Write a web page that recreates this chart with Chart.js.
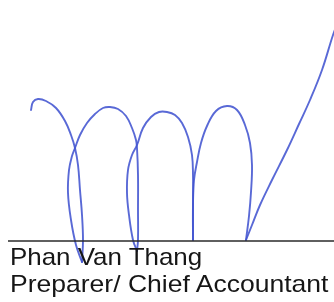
<!DOCTYPE html>
<html>
<head>
<meta charset="utf-8">
<script src="https://cdn.jsdelivr.net/npm/chart.js@4.4.1/dist/chart.umd.min.js"></script>
<style>
    html, body { margin: 0; padding: 0; background: #fff; }
    #wrap { position: relative; width: 334px; height: 302px; overflow: hidden; }
    #sig { position: absolute; left: 0; top: 0; }
    .caption {
        position: absolute; left: 10px;
        font-family: 'Liberation Sans', Arial, sans-serif;
        font-size: 24px; line-height: 1; color: #161616;
        white-space: nowrap;
        transform: scaleX(1.08); transform-origin: left top;
    }
    .caption.wide { transform: scaleX(1.105); }
</style>
</head>
<body>
<div id="wrap">
    <canvas id="sig" width="334" height="302"></canvas>
    <div class="caption" style="top:245px;">Phan Van Thang</div>
    <div class="caption wide" style="top:272px;">Preparer/ Chief Accountant</div>
</div>
<script>
/* ── Signature strokes (x, y) ────────────────────────── */
// hook + first arch, down the right side of loop 1
const strokeA = [[31,110],[33,102],[38,99],[46,101],[56,108],[65,121],[71,135],[75,148],[78,165],[80,190],[82,215],[83,240],[82,262]];
// back up loop 1, second arch, down loop 2
const strokeB = [[82,262],[76,245],[71,220],[68,193],[69,170],[72,156],[75,148],[80,135],[87,123],[95,114],[103,108],[110,107],[118,109],[126,116],[132,128],[136,140],[137,148],[138,175],[138,210],[138,240],[137,251]];
// back up loop 2, third arch, down to the rule
const strokeC = [[137,251],[133,240],[129,215],[127,193],[128,170],[132,155],[137,145],[143,128],[151,117],[159,112],[167,112],[175,115],[182,123],[188,137],[192,155],[193,175],[193,210],[193,240]];
// up again, fourth arch, down to the rule
const strokeD = [[193,240],[193,205],[194,180],[197,162],[201,143],[207,126],[216,111],[227,106],[237,110],[245,125],[250,143],[252,165],[251,192],[249,216],[246,240]];
// final long upstroke
const strokeE = [[246,240],[252,225],[260,205],[272,180],[287,150],[299,124],[310,100],[322,70],[333,35],[338,22]];

// signature rule
const ruleX = [8, 334];
const ruleY = 241;

const toPts = arr => arr.map(([x, y]) => ({ x, y }));

const inkStyle = {
    showLine: true,
    borderColor: 'rgba(66,84,208,0.88)',
    borderWidth: 1.9,
    pointRadius: 0,
    tension: 0.4,
    fill: false,
    borderCapStyle: 'round',
    borderJoinStyle: 'round'
};

new Chart(document.getElementById('sig'), {
    type: 'scatter',
    data: {
        datasets: [
            {
                data: ruleX.map(x => ({ x, y: ruleY })),
                showLine: true,
                borderColor: '#2a2a2a',
                borderWidth: 1.6,
                pointRadius: 0,
                tension: 0
            },
            { ...inkStyle, data: toPts(strokeA) },
            { ...inkStyle, data: toPts(strokeB) },
            { ...inkStyle, data: toPts(strokeC) },
            { ...inkStyle, data: toPts(strokeD) },
            { ...inkStyle, data: toPts(strokeE) }
        ]
    },
    options: {
        responsive: false,
        animation: false,
        layout: { padding: 0 },
        plugins: { legend: { display: false }, tooltip: { enabled: false } },
        scales: {
            x: { type: 'linear', min: 0, max: 334, display: false },
            y: { type: 'linear', min: 0, max: 302, reverse: true, display: false }
        }
    }
});
</script>
</body>
</html>
